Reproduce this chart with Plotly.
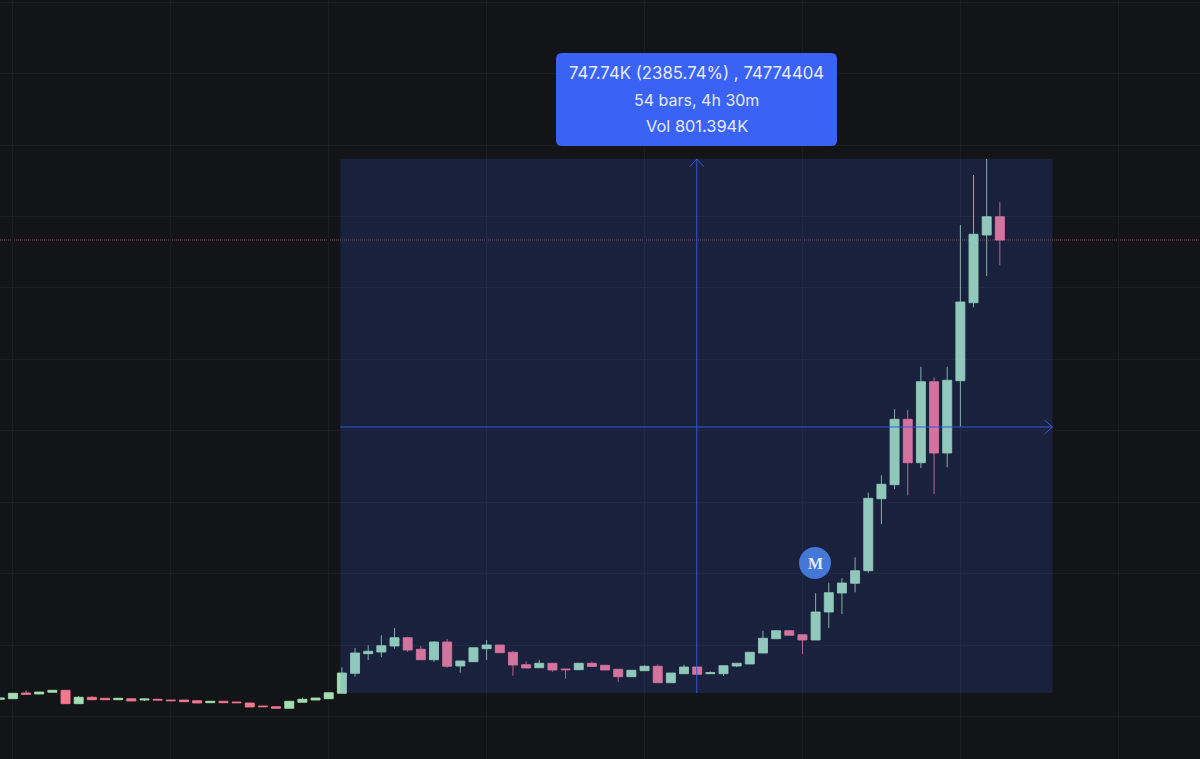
import plotly.graph_objects as go

# prices in thousands, one bar per 5 minutes
bars = list(range(77))
opens = [22.5, 23.3, 31.3, 29.9, 32.3, 35.1, 16.3, 25.3, 23.9, 21.9,
         23.3, 21.5, 22.5, 21.5, 21.5, 20.5, 17.7, 19.7, 18.7, 17.3,
         13.1, 12.1, 9.9, 18.3, 21.5, 23.3, 30.9, 58.9, 86.3, 88.7,
         97.1, 108.7, 92.5, 77.9, 102.7, 69.1, 75.1, 93.3, 98.5, 88.3,
         70.9, 66.7, 72.9, 64.9, 63.9, 72.9, 70.1, 64.5, 54.1, 62.5,
         68.7, 45.7, 58.3, 67.7, 58.3, 58.3, 69.1, 71.9, 87.3, 107.3,
         118.5, 112.9, 105.5, 144.7, 171.3, 184.9, 202.5, 303.3, 322.9, 414.5,
         353.7, 467.1, 367.3, 468.5, 577.7, 672.5, 698.1]
highs = [24.3, 30.9, 35.1, 32.7, 35.1, 35.1, 27.1, 26.7, 23.9, 23.9,
         23.3, 22.9, 22.5, 21.5, 21.5, 20.5, 19.7, 19.7, 18.7, 17.3,
         13.1, 12.1, 19.7, 24.7, 24.3, 31.7, 67.3, 94.3, 98.1, 112.1,
         122.3, 110.1, 97.1, 104.1, 106.9, 76.1, 94.7, 105.5, 98.5, 90.1,
         75.7, 77.5, 72.9, 64.9, 72.9, 75.1, 70.1, 64.5, 63.1, 70.1,
         71.5, 59.3, 70.9, 67.7, 61.7, 69.5, 72.9, 88.3, 118.5, 118.5,
         119.5, 112.9, 170.9, 185.7, 191.9, 221.3, 311.7, 336.1, 428.5, 427.5,
         488.1, 473.3, 488.1, 686.5, 756.5, 778.9, 718.3]
lows = [22.5, 23.3, 29.5, 29.9, 32.3, 16.3, 16.3, 21.9, 21.9, 21.9,
        20.1, 20.1, 21.5, 20.5, 19.1, 17.3, 17.7, 17.7, 17.7, 11.7,
        12.1, 9.9, 9.9, 18.3, 21.5, 23.3, 30.9, 54.1, 77.5, 81.3,
        93.3, 88.7, 77.9, 74.7, 66.7, 59.7, 75.1, 77.5, 87.7, 55.5,
        66.3, 66.7, 61.1, 51.3, 63.9, 68.4, 63.5, 46.7, 54.1, 62.5,
        45.7, 45.7, 58.3, 57.5, 58.3, 55.1, 67.7, 71.9, 87.3, 107.3,
        112.1, 85.9, 105.5, 122.3, 141.9, 172.3, 199.7, 267.9, 316.5, 308.1,
        346.3, 309.9, 347.3, 404.1, 571.3, 615.1, 630.1]
closes = [24.3, 30.9, 29.5, 32.7, 35.1, 16.3, 25.3, 21.9, 21.9, 23.9,
          20.1, 22.9, 21.5, 20.5, 19.1, 17.3, 19.7, 17.7, 17.7, 11.7,
          12.1, 9.9, 19.7, 22.5, 24.3, 31.7, 59.3, 87.3, 89.7, 97.5,
          108.7, 91.5, 77.9, 102.7, 68.7, 76.1, 94.7, 98.5, 87.7, 70.5,
          66.3, 72.9, 63.5, 63.9, 72.9, 68.4, 63.5, 54.1, 63.1, 68.7,
          45.7, 59.3, 67.7, 57.5, 59.7, 69.5, 72.9, 88.3, 107.9, 118.5,
          112.1, 105.5, 144.7, 171.7, 185.3, 202.5, 303.9, 323.5, 414.5, 353.7,
          467.1, 367.3, 469.1, 578.7, 673.5, 698.1, 665.5]

# measure tool
measure_start = 25.88
measure_span = 54.12
measure_base = 31.34
measure_change = 747.74
measure_mid = 403.7
last_price = closes[-1]
measure_lines = ["747.74K (2385.74%) , 74774404", "54 bars, 4h 30m", "Vol 801.394K"]
line_sizes = [16.8, 16, 16.4]

WIDTH, HEIGHT = 1200, 759
BG = "#131417"
BLUE = "#3a62f5"
LINE_BLUE = "#3358dc"
measure_end = measure_start + measure_span
measure_top = measure_base + measure_change
measure_x = measure_start + measure_span / 2 + 0.03

fig = go.Figure(go.Candlestick(
    x=bars, open=opens, high=highs, low=lows, close=closes,
    whiskerwidth=0,
    increasing=dict(fillcolor="#a2deb0", line=dict(color="rgba(162,222,176,0.85)", width=1)),
    decreasing=dict(fillcolor="#f2778f", line=dict(color="rgba(242,119,143,0.85)", width=1)),
))

# last price line
fig.add_shape(type="line", xref="paper", x0=0, x1=1, yref="y", y0=last_price, y1=last_price,
              line=dict(color="#a0404c", width=1, dash="1px,1px"), layer="below")
# measured region
fig.add_shape(type="rect", x0=measure_start, x1=measure_end, y0=measure_base, y1=measure_top,
              fillcolor="rgba(58,98,245,0.17)", line_width=0, layer="above")
fig.add_shape(type="line", x0=measure_x, x1=measure_x, y0=measure_base, y1=measure_top,
              line=dict(color=LINE_BLUE, width=1), layer="above")
fig.add_shape(type="line", x0=measure_start, x1=measure_end, y0=measure_mid, y1=measure_mid,
              line=dict(color=LINE_BLUE, width=1), layer="above")
# arrow heads, sized in pixels
fig.add_shape(type="path", xsizemode="pixel", ysizemode="pixel", xanchor=measure_x, yanchor=measure_top,
              path="M -7 -8 L 0 0 L 7 -8", line=dict(color=LINE_BLUE, width=1), layer="above")
fig.add_shape(type="path", xsizemode="pixel", ysizemode="pixel", xanchor=measure_end, yanchor=measure_mid,
              path="M -8 7 L 0 0 L -8 -7", line=dict(color=LINE_BLUE, width=1), layer="above")

def px(v):
    return v / WIDTH

def py(v):
    return 1 - v / HEIGHT

# tooltip box with rounded corners
l, r, t, b, c = 556, 837, 53, 146, 6
box = (f"M {px(l + c)} {py(t)} L {px(r - c)} {py(t)} Q {px(r)} {py(t)} {px(r)} {py(t + c)} "
       f"L {px(r)} {py(b - c)} Q {px(r)} {py(b)} {px(r - c)} {py(b)} "
       f"L {px(l + c)} {py(b)} Q {px(l)} {py(b)} {px(l)} {py(b - c)} "
       f"L {px(l)} {py(t + c)} Q {px(l)} {py(t)} {px(l + c)} {py(t)} Z")
fig.add_shape(type="path", xref="paper", yref="paper", path=box, fillcolor=BLUE, line_width=0, layer="above")

for text, y, size in zip(measure_lines, [73, 100, 126], line_sizes):
    fig.add_annotation(xref="paper", yref="paper", x=px(696.5), y=py(y), text=text, showarrow=False,
                       xanchor="center", yanchor="middle",
                       font=dict(family="Inter", size=size, color="#e6ebff"))

# marker badge
fig.add_shape(type="circle", xref="paper", yref="paper", x0=px(799), x1=px(831), y0=py(547), y1=py(579),
              fillcolor="#4477d6", line_width=0, layer="above")
fig.add_annotation(xref="paper", yref="paper", x=px(815), y=py(563), text="<b>M</b>", showarrow=False,
                   xanchor="center", yanchor="middle",
                   font=dict(family="Liberation Serif", size=16, color="#e6ebff"))

fig.update_layout(
    width=WIDTH, height=HEIGHT,
    margin=dict(l=0, r=0, t=0, b=0),
    paper_bgcolor=BG, plot_bgcolor=BG,
    showlegend=False,
    boxgap=0.02,
    xaxis=dict(range=[0.02, 91.21], rangeslider_visible=False, showticklabels=False, zeroline=False,
               tick0=1, dtick=12, gridcolor="#1c1d21", gridwidth=1),
    yaxis=dict(range=[-61.1, 1001.5], showticklabels=False, zeroline=False,
               tick0=-1.5, dtick=100, gridcolor="#1c1d21", gridwidth=1),
)

fig.write_html("out.html", config=dict(displayModeBar=False),
               post_script="document.body.style.margin='0';document.body.style.background='#131417';")
